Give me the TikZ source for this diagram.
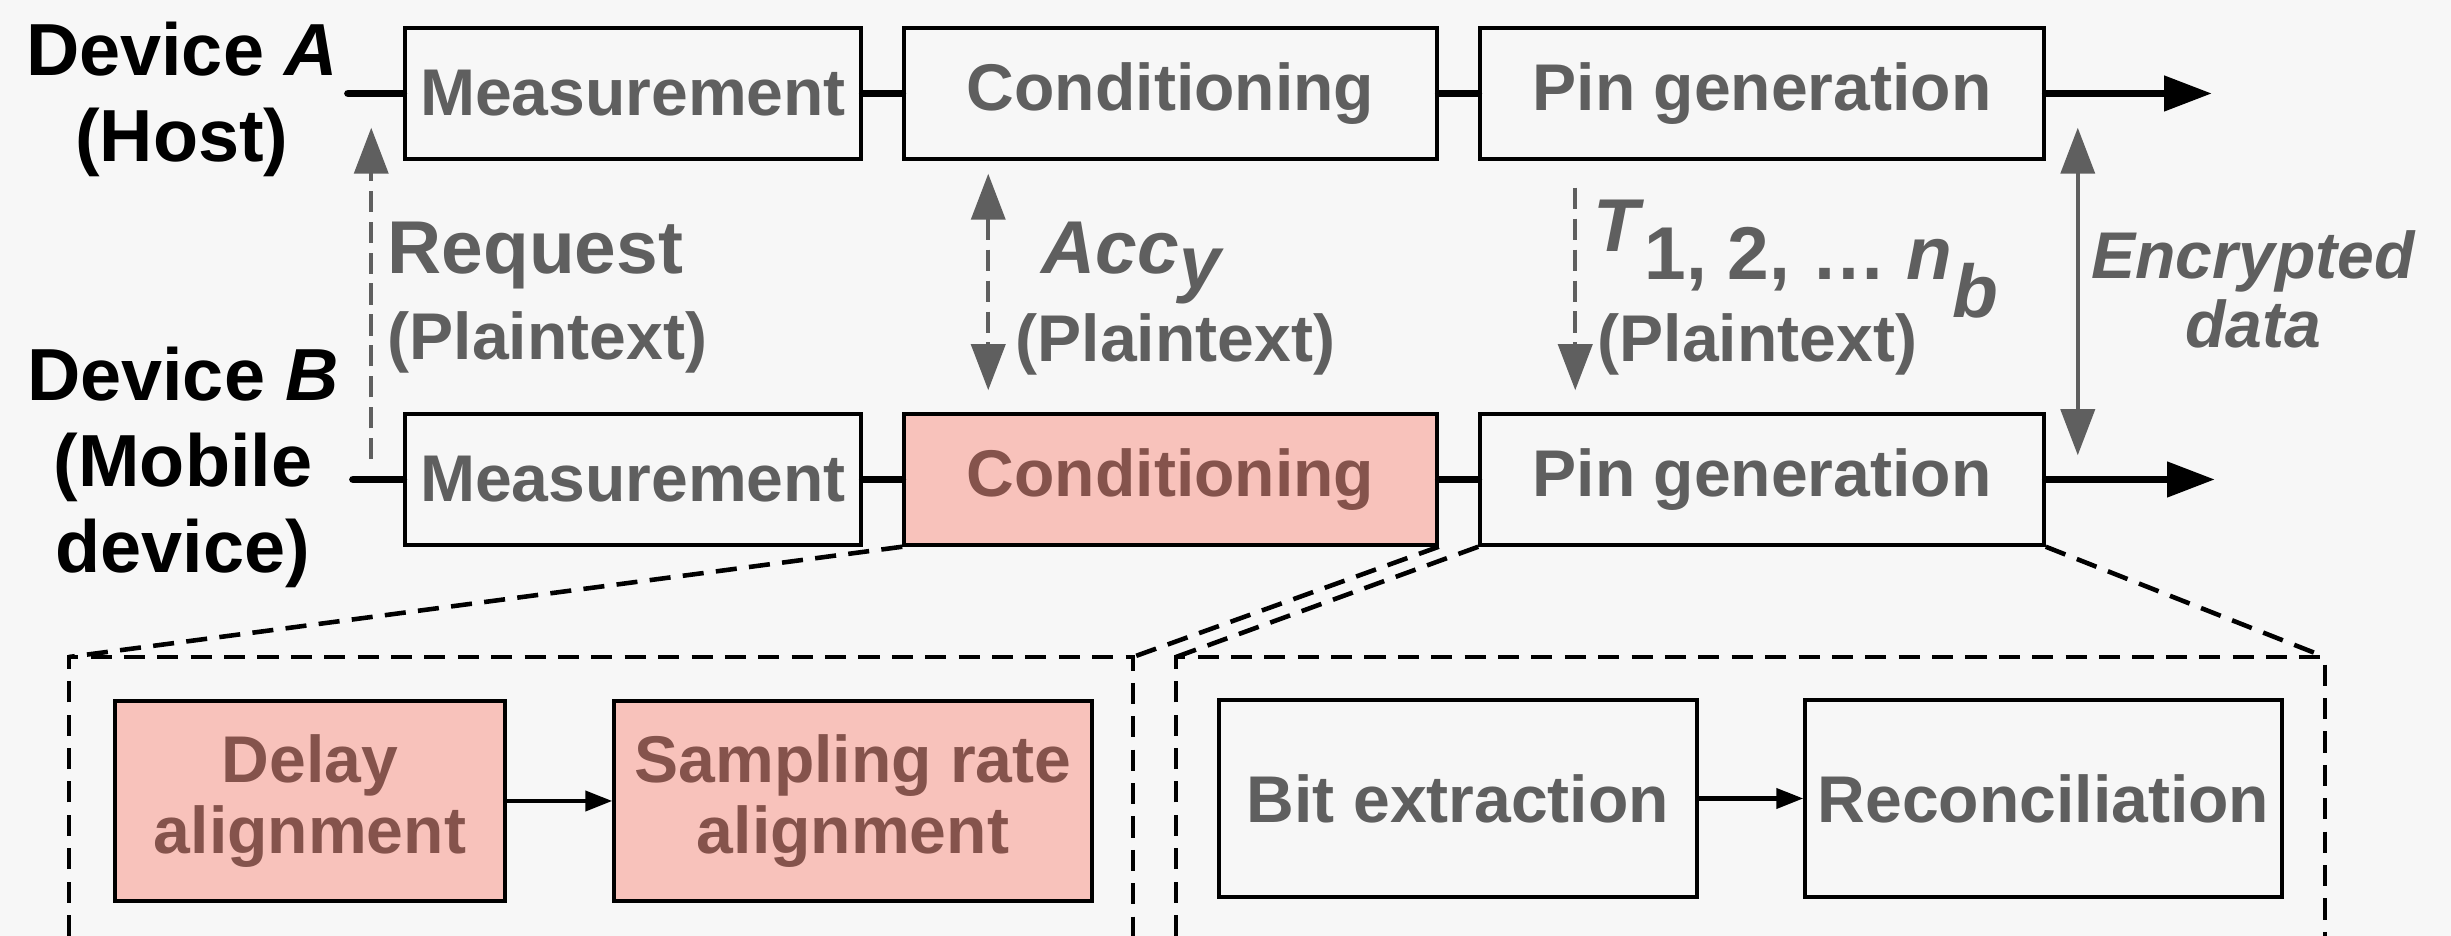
\documentclass[tikz,border=0pt]{standalone}
\usepackage{fontspec}
\setmainfont{Liberation Sans}
\usetikzlibrary{positioning, arrows.meta}
\definecolor{bgcol}{HTML}{F7F7F7}
\definecolor{txtgray}{HTML}{5F5F5F}
\definecolor{pinkfill}{HTML}{F8C2BB}
\definecolor{pinktext}{HTML}{85534C}
\newcommand{\boxfont}{\fontsize{18.8}{20}\selectfont\bfseries}
\newcommand{\lblfont}{\fontsize{21.3}{24}\selectfont\bfseries}
\newcommand{\devfont}{\fontsize{21}{24.5}\selectfont\bfseries}
\tikzset{
bigtip/.tip={Triangle[length=0.48cm,width=0.34cm]},
graytip/.tip={Triangle[length=0.46cm,width=0.34cm]},
smalltip/.tip={Triangle[length=0.27cm,width=0.2cm]},
block/.style={draw, line width=1pt, inner sep=0pt, minimum height=1.31cm, font=\boxfont, text=txtgray},
hot/.style={block, fill=pinkfill, text=pinktext},
stage/.style={align=center, minimum height=2cm},
flow/.style={line width=2.2pt, line cap=round},
msg/.style={draw=txtgray, line width=1.1pt},
msgdash/.style={msg, dash pattern=on 6pt off 2.8pt},
lbl/.style={inner sep=0pt, text=txtgray, font=\lblfont},
zoomline/.style={line width=1.3pt, dash pattern=on 6pt off 3.5pt},
}

\begin{document}
\begin{tikzpicture}
    \fill[bgcol] (0,0) rectangle (24.51,9.36);
    \useasboundingbox (0,0) rectangle (24.51,9.36);

    %device labels
    \node[font=\devfont, align=center, inner sep=0pt] (devA) at (1.82,8.365) {Device \textit{A}\\(Host)};
    \node[font=\devfont, align=center, inner sep=0pt] (devB) at (1.83,4.685) {Device \textit{B}\\(Mobile\\device)};

    %blocks of device A
    \node[block, minimum width=4.56cm] (measA) at (6.33,8.425) {Measurement};
    \node[block, minimum width=5.33cm] (condA) at (11.705,8.425) {Conditioning};
    \node[block, minimum width=5.64cm]  (pinA) at (17.62,8.425) {Pin generation};

    %blocks of device B
    \node[block, minimum width=4.56cm] (measB) at (6.33,4.565) {Measurement};
    \node[hot,   minimum width=5.33cm] (condB) at (11.705,4.565) {Conditioning};
    \node[block, minimum width=5.64cm]  (pinB) at (17.62,4.565) {Pin generation};

    %inner stages
    \node[hot, stage, minimum width=3.90cm]    (delay) at (3.10,1.35) {Delay\\alignment};
    \node[hot, stage, minimum width=4.78cm] (sampling) at (8.53,1.35) {Sampling rate\\alignment};
    \node[block, stage, minimum width=4.78cm, minimum height=1.97cm] (bitex) at (14.58,1.375) {Bit extraction};
    \node[block, stage, minimum width=4.77cm, minimum height=1.97cm] (recon) at (20.435,1.375) {Reconciliation};

    %line of device A
    \coordinate (headA) at (3.48,8.425);
    \coordinate (tailA) at (22.12,8.425);
    \draw[flow] (headA) -- (measA.west);
    \draw[flow] (measA.east) -- (condA.west);
    \draw[flow] (condA.east) -- (pinA.west);
    \draw[flow, -bigtip] (pinA.east) -- (tailA);

    %line of device B
    \coordinate (headB) at (3.53,4.565);
    \coordinate (tailB) at (22.15,4.565);
    \draw[flow] (headB) -- (measB.west);
    \draw[flow] (measB.east) -- (condB.west);
    \draw[flow] (condB.east) -- (pinB.west);
    \draw[flow, -bigtip] (pinB.east) -- (tailB);

    % messages between the devices
    \draw[msgdash, -graytip] ([xshift=-0.32cm,yshift=-0.47cm]measB.north west) -- ([xshift=-0.32cm,yshift=0.33cm]measA.south west);
    \draw[msgdash, graytip-graytip] ([xshift=0.86cm,yshift=-0.13cm]condA.south west) -- ([xshift=0.86cm,yshift=0.22cm]condB.north west);
    \draw[msgdash, -graytip] ([xshift=0.97cm,yshift=-0.27cm]pinA.south west) -- ([xshift=0.97cm,yshift=0.22cm]pinB.north west);
    \draw[msg, graytip-graytip] ([xshift=0.32cm,yshift=0.33cm]pinA.south east) -- ([xshift=0.32cm,yshift=-0.43cm]pinB.north east);

    \node[lbl, anchor=base west] (req) at (3.87,6.62) {Request};
    \node[lbl, font=\boxfont, anchor=base west] (reqpt) at (3.87,5.76) {(Plaintext)};
    \node[lbl, anchor=base west] (acc) at (10.41,6.62) {\textit{Acc}\raisebox{-0.2em}{\textit{y}}};
    \node[lbl, font=\boxfont, anchor=base west] (accpt) at (10.15,5.74) {(Plaintext)};
    \node[lbl, anchor=base west] (tidx) at (15.93,6.84) {\textit{T}\raisebox{-0.37em}{1, 2, … \textit{n}\raisebox{-0.5em}{\textit{b}}}};
    \node[lbl, font=\boxfont, anchor=base west] (tidxpt) at (15.97,5.74) {(Plaintext)};
    \node[lbl, font={\fontsize{18.8}{19.6}\selectfont\bfseries\itshape}, align=center] (enc) at (22.53,6.465) {Encrypted\\data};

    %inner arrows
    \draw[line width=1.2pt, -smalltip] (delay.east) -- (sampling.west);
    \draw[line width=1.2pt, -smalltip] (bitex.east) -- (recon.west);

    %zoom frames
    \coordinate (lboxnw) at (0.69,2.79);
    \coordinate (lboxne) at (11.33,2.79);
    \coordinate (lboxsw) at (0.69,0);
    \coordinate (lboxse) at (11.33,0);
    \coordinate (rboxnw) at (11.76,2.79);
    \coordinate (rboxne) at (23.25,2.79);
    \coordinate (rboxsw) at (11.76,0);
    \coordinate (rboxse) at (23.25,0);
    \draw[zoomline] (lboxsw) -- (lboxnw) -- (lboxne) -- (lboxse);
    \draw[zoomline] (rboxsw) -- (rboxnw) -- (rboxne) -- (rboxse);
    \draw[zoomline] (condB.south west) -- (lboxnw);
    \draw[zoomline] (condB.south east) -- (lboxne);
    \draw[zoomline] (pinB.south west) -- (rboxnw);
    \draw[zoomline] (pinB.south east) -- (rboxne);

\end{tikzpicture}
\end{document}
